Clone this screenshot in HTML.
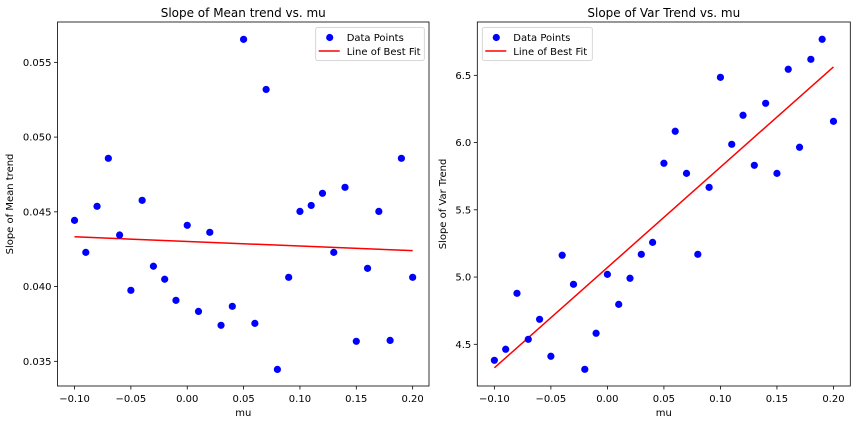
<!DOCTYPE html>
<html><head><meta charset="utf-8"><style>
html,body{margin:0;padding:0;background:#fff;}
svg{display:block;font-family:"DejaVu Sans","Liberation Sans",sans-serif;}
</style></head><body>
<svg id="fig" width="856" height="424" viewBox="0 0 856 424"></svg>
<script>
const muValues = [-0.10,-0.09,-0.08,-0.07,-0.06,-0.05,-0.04,-0.03,-0.02,-0.01,0.00,0.01,0.02,0.03,0.04,0.05,0.06,0.07,0.08,0.09,0.10,0.11,0.12,0.13,0.14,0.15,0.16,0.17,0.18,0.19,0.20];
const meanSlopes = [0.04443,0.04229,0.04537,0.04858,0.04345,0.03975,0.04577,0.04136,0.04049,0.03908,0.04410,0.03834,0.04363,0.03741,0.03868,0.05654,0.03754,0.05319,0.03446,0.04062,0.04503,0.04543,0.04624,0.04229,0.04664,0.03634,0.04122,0.04503,0.03640,0.04858,0.04062];
const varSlopes = [4.381,4.463,4.879,4.537,4.686,4.411,5.162,4.946,4.314,4.582,5.020,4.797,4.991,5.169,5.258,5.846,6.084,5.771,5.169,5.667,6.485,5.987,6.203,5.831,6.292,5.771,6.545,5.965,6.619,6.768,6.158];
const xTicks = [-0.10,-0.05,0.00,0.05,0.10,0.15,0.20];
const xTickLabels = ["\u22120.10","\u22120.05","0.00","0.05","0.10","0.15","0.20"];
const meanYTicks = [0.035,0.040,0.045,0.050,0.055];
const meanYTickLabels = ["0.035","0.040","0.045","0.050","0.055"];
const varYTicks = [4.5,5.0,5.5,6.0,6.5];
const varYTickLabels = ["4.5","5.0","5.5","6.0","6.5"];

const NS="http://www.w3.org/2000/svg";
const svg=document.getElementById('fig');
function mk(tag,attrs,parent){const e=document.createElementNS(NS,tag);for(const k in attrs)e.setAttribute(k,attrs[k]);(parent||svg).appendChild(e);return e;}

function fit(xs,ys){const n=xs.length;let mx=0,my=0;for(let i=0;i<n;i++){mx+=xs[i];my+=ys[i];}mx/=n;my/=n;let sxy=0,sxx=0;for(let i=0;i<n;i++){sxy+=(xs[i]-mx)*(ys[i]-my);sxx+=(xs[i]-mx)**2;}const b=sxy/sxx;return [b,my-b*mx];}

function panel(o){
  const g=mk('g',{});
  
  
  const X=v=>o.x0+(v-o.xd[0])/(o.xd[1]-o.xd[0])*(o.x1-o.x0);
  const Y=v=>o.y1-(v-o.yd[0])/(o.yd[1]-o.yd[0])*(o.y1-o.y0);
  // ticks x
  xTicks.forEach((t,i)=>{const px=X(t);
    const l=mk('line',{x1:px,x2:px,y1:o.y1,y2:o.y1+3.5,stroke:'#000','stroke-width':0.8},g);
    
    const tx=mk('text',{x:px,y:o.y1+16,'font-size':10,'text-anchor':'middle',fill:'#000'},g);tx.textContent=xTickLabels[i];
    });
  o.yt.forEach((t,i)=>{const py=Y(t);
    const l=mk('line',{x1:o.x0-3.5,x2:o.x0,y1:py,y2:py,stroke:'#000','stroke-width':0.8},g);
    
    const tx=mk('text',{x:o.x0-6,y:py+3.6,'font-size':10,'text-anchor':'end',fill:'#000'},g);tx.textContent=o.ytl[i];
    });
  // fit line
  const [b,a]=fit(muValues,o.ys);
  const fl=mk('line',{x1:X(muValues[0]),y1:Y(a+b*muValues[0]),x2:X(muValues[muValues.length-1]),y2:Y(a+b*muValues[muValues.length-1]),stroke:'#ff0000','stroke-width':1.5},g);
  
  // points
  muValues.forEach((m,i)=>{const c=mk('circle',{cx:X(m),cy:Y(o.ys[i]),r:3.6,fill:'#0000ff'},g);
    });
  // frame
  const fr=mk('rect',{x:o.x0,y:o.y0,width:o.x1-o.x0,height:o.y1-o.y0,fill:'none',stroke:'#000','stroke-width':0.8},g);
  
  // title, labels
  const ti=mk('text',{x:(o.x0+o.x1)/2,y:17,'font-size':12,'text-anchor':'middle',fill:'#000'},g);ti.textContent=o.title;
  
  const xl=mk('text',{x:(o.x0+o.x1)/2,y:416,'font-size':10,'text-anchor':'middle',fill:'#000'},g);xl.textContent='mu';
  
  const cy=(o.y0+o.y1)/2;
  const yl=mk('text',{x:o.ylx,y:cy,'font-size':10,'text-anchor':'middle',fill:'#000',transform:`rotate(-90 ${o.ylx} ${cy})`},g);yl.textContent=o.ylabel;
  
  // legend
  const lg=mk('g',{},g);
  
  mk('rect',{x:o.lx,y:27.5,width:o.lw,height:33,rx:2,fill:'#fff','fill-opacity':0.8,stroke:'#ccc','stroke-width':0.8},lg);
  const lc=mk('circle',{cx:o.lx+14,cy:37.5,r:3.6,fill:'#0000ff'},lg);
  
  const t1=mk('text',{x:o.lx+31,y:41,'font-size':10,fill:'#000'},lg);t1.textContent='Data Points';
  
  const ll=mk('line',{x1:o.lx+3,x2:o.lx+24,y1:51,y2:51,stroke:'#ff0000','stroke-width':1.5},lg);
  
  const t2=mk('text',{x:o.lx+31,y:55,'font-size':10,fill:'#000'},lg);t2.textContent='Line of Best Fit';
  
}
panel({name:'mean-trend-chart',x0:57.5,x1:429,y0:22,y1:386,xd:[-0.1151,0.2145],yd:[0.03335,0.0577],ys:meanSlopes,yt:meanYTicks,ytl:meanYTickLabels,title:'Slope of Mean trend vs. mu',ylabel:'Slope of Mean trend',ylx:13,lx:315.7,lw:108.6});
panel({name:'var-trend-chart',x0:477.3,x1:850.3,y0:22,y1:386,xd:[-0.1151,0.2149],yd:[4.19,6.8965],ys:varSlopes,yt:varYTicks,ytl:varYTickLabels,title:'Slope of Var Trend vs. mu',ylabel:'Slope of Var Trend',ylx:446,lx:482.3,lw:110});
</script>
</body></html>
